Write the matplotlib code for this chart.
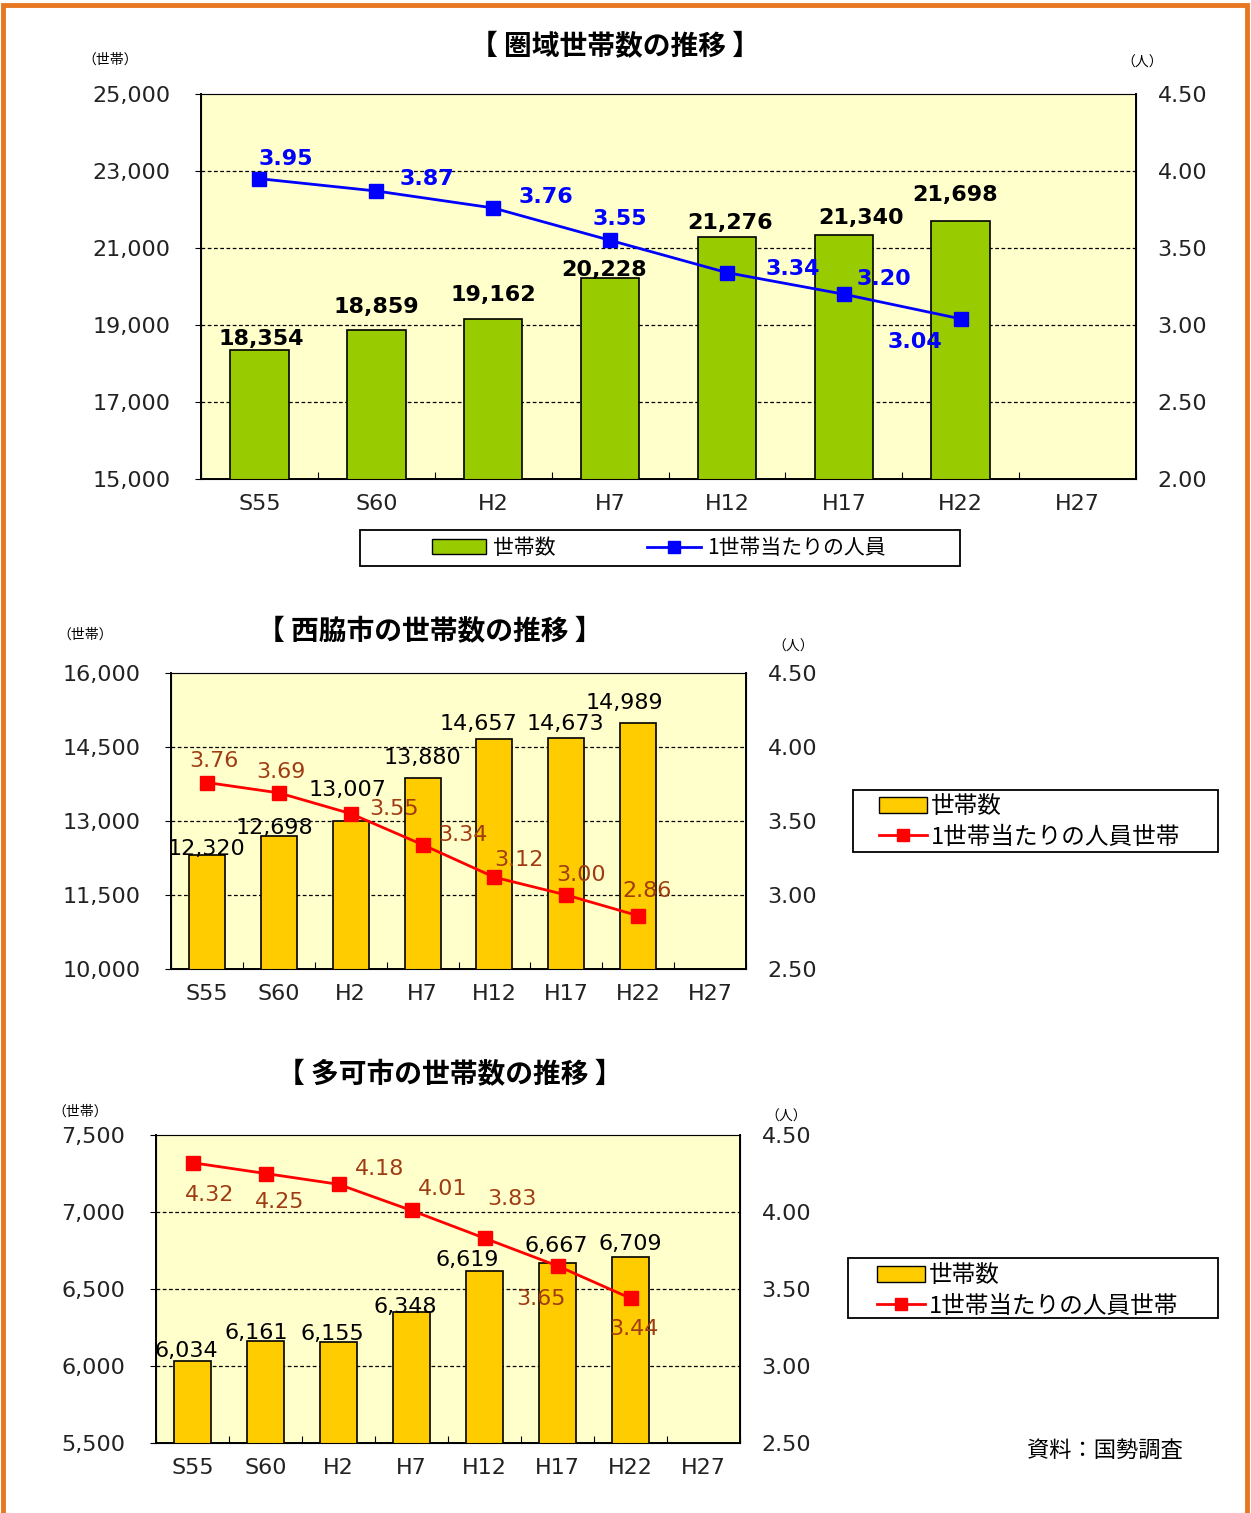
import matplotlib
matplotlib.use('Agg')
import matplotlib.pyplot as plt
from matplotlib.patches import Rectangle, Patch
from matplotlib.lines import Line2D
import numpy as np

plt.rcParams['font.family'] = ['Noto Sans CJK JP', 'DejaVu Sans']

# ---- data ----
years = ['S55', 'S60', 'H2', 'H7', 'H12', 'H17', 'H22', 'H27']

# 圏域
area_households = [18354, 18859, 19162, 20228, 21276, 21340, 21698]
area_persons = [3.95, 3.87, 3.76, 3.55, 3.34, 3.20, 3.04]

# 西脇市
nishiwaki_households = [12320, 12698, 13007, 13880, 14657, 14673, 14989]
nishiwaki_persons = [3.76, 3.69, 3.55, 3.34, 3.12, 3.00, 2.86]

# 多可市
taka_households = [6034, 6161, 6155, 6348, 6619, 6667, 6709]
taka_persons = [4.32, 4.25, 4.18, 4.01, 3.83, 3.65, 3.44]

W, H = 1251, 1513
fig = plt.figure(figsize=(W / 100, H / 100), dpi=100)


def box(l, t, r, b):
    # pixel box -> figure fraction rect
    return [l / W, 1 - b / H, (r - l) / W, (b - t) / H]


def frame(l, t, r, b):
    fig.add_artist(Rectangle((l / W, 1 - b / H), (r - l) / W, (b - t) / H,
                             transform=fig.transFigure, fill=False,
                             edgecolor='black', lw=1.3))


def draw_chart(rect, hh, pp, ylim, yticks, y2lim, y2ticks, barcol, linecol,
               labcol, bold_lab, bar_off, line_off, msize):
    ax = fig.add_axes(rect)
    ax.set_facecolor('#FFFFCC')
    x = np.arange(len(years))
    ax.bar(x[:len(hh)], hh, width=0.5, color=barcol, edgecolor='black',
           linewidth=1.2, zorder=3)
    ax.set_xlim(-0.5, len(years) - 0.5)
    ax.set_ylim(*ylim)
    ax.set_yticks(yticks)
    ax.set_yticklabels(['{:,}'.format(v) for v in yticks], fontsize=16,
                       color='#222222', family='DejaVu Sans')
    for v in yticks[1:-1]:
        ax.axhline(v, color='black', lw=0.9, ls=(0, (3, 2)), zorder=1)
    # category boundary ticks + centred labels
    ax.set_xticks(np.arange(len(years) + 1) - 0.5)
    ax.set_xticklabels([])
    ax.tick_params(axis='x', which='major', direction='in', length=5)
    ax.set_xticks(x, minor=True)
    ax.set_xticklabels(years, minor=True, fontsize=16, color='#222222',
                       family='DejaVu Sans')
    ax.tick_params(axis='x', which='minor', length=0, pad=11)
    ax.tick_params(axis='y', length=4, pad=18)
    ax.spines['top'].set_color('#888888')
    for s in ['left', 'bottom', 'right']:
        ax.spines[s].set_linewidth(1.4)

    ax2 = ax.twinx()
    ax2.set_ylim(*y2lim)
    ax2.set_yticks(y2ticks)
    ax2.set_yticklabels(['{:.2f}'.format(v) for v in y2ticks], fontsize=16,
                        color='#222222', family='DejaVu Sans')
    ax2.tick_params(axis='y', length=0, pad=15.5)
    ax2.plot(x[:len(pp)], pp, color=linecol, lw=2, marker='s', ms=msize,
             zorder=5)

    for i, v in enumerate(hh):
        ax.annotate('{:,}'.format(v), (x[i], v), xytext=bar_off[i],
                    textcoords='offset pixels', ha='center', va='bottom',
                    fontsize=16, family='DejaVu Sans',
                    fontweight='bold' if bold_lab else 'normal', zorder=6)
    for i, v in enumerate(pp):
        ax2.annotate('{:.2f}'.format(v), (x[i], v), xytext=line_off[i],
                     textcoords='offset pixels', ha='center', va='center',
                     fontsize=16, color=labcol, family='DejaVu Sans',
                     fontweight='bold' if bold_lab else 'normal', zorder=6)
    return ax, ax2


# ---- chart 1 ----
ax1, ax1b = draw_chart(
    box(201, 94, 1136, 479), area_households, area_persons,
    (15000, 25000), [15000, 17000, 19000, 21000, 23000, 25000],
    (2.0, 4.5), [2.0, 2.5, 3.0, 3.5, 4.0, 4.5],
    '#99CC00', '#0000FF', '#0000FF', True,
    [(2, 1), (0, 13), (0, 14), (-6, -2), (3, 4), (17, 7), (-6, 16)],
    [(26, 20), (51, 12), (53, 11), (10, 21), (66, 4), (40, 15), (-46, -23)], 10)
fig.text(615 / W, 1 - 47 / H, '【 圏域世帯数の推移 】', ha='center', va='center',
         fontsize=20, fontweight='bold')
fig.text(110 / W, 1 - 60 / H, '（世帯）', ha='center', va='center', fontsize=10)
fig.text(1142 / W, 1 - 63 / H, '（人）', ha='center', va='center', fontsize=10)
h1 = [Patch(facecolor='#99CC00', edgecolor='black'),
      Line2D([], [], color='#0000FF', lw=2, marker='s', ms=8)]
fig.legend(h1, ['世帯数', '1世帯当たりの人員'], ncol=2, loc='center',
           bbox_to_anchor=(659 / W, 1 - 548 / H), fontsize=15, frameon=False,
           handlelength=2.6, columnspacing=4.4, handletextpad=0.3,
           borderpad=0, borderaxespad=0)
frame(360, 530, 960, 566)

# ---- chart 2 ----
ax2, ax2b = draw_chart(
    box(171, 673, 746, 969), nishiwaki_households, nishiwaki_persons,
    (10000, 16000), [10000, 11500, 13000, 14500, 16000],
    (2.5, 4.5), [2.5, 3.0, 3.5, 4.0, 4.5],
    '#FFCC00', '#FF0000', '#A03C14', False,
    [(0, -4), (-4, -2), (-3, 21), (0, 10), (-16, 5), (-1, 4), (-14, 10)],
    [(7, 22), (2, 21), (43, 5), (40, 10), (25, 17), (15, 20), (9, 25)], 10.5)
fig.text(430 / W, 1 - 632 / H, '【 西脇市の世帯数の推移 】', ha='center',
         va='center', fontsize=20, fontweight='bold')
fig.text(85 / W, 1 - 635 / H, '（世帯）', ha='center', va='center', fontsize=10)
fig.text(793 / W, 1 - 647 / H, '（人）', ha='center', va='center', fontsize=10)

# ---- chart 3 ----
ax3, ax3b = draw_chart(
    box(156, 1135, 740, 1443), taka_households, taka_persons,
    (5500, 7500), [5500, 6000, 6500, 7000, 7500],
    (2.5, 4.5), [2.5, 3.0, 3.5, 4.0, 4.5],
    '#FFCC00', '#FF0000', '#A03C14', False,
    [(-6, 0), (-9, -2), (-6, -2), (-6, -5), (-17, 1), (-1, 7), (0, 3)],
    [(17, -32), (14, -28), (41, 15), (31, 21), (27, 39), (-16, -33), (3, -31)], 10.5)
fig.text(450 / W, 1 - 1075 / H, '【 多可市の世帯数の推移 】', ha='center',
         va='center', fontsize=20, fontweight='bold')
fig.text(80 / W, 1 - 1112 / H, '（世帯）', ha='center', va='center', fontsize=10)
fig.text(786 / W, 1 - 1117 / H, '（人）', ha='center', va='center', fontsize=10)

h2 = [Patch(facecolor='#FFCC00', edgecolor='black'),
      Line2D([], [], color='#FF0000', lw=2, marker='s', ms=9)]
for cx, cy, bx in ((1030, 822, (853, 790, 1218, 852)),
                   (1028, 1291, (848, 1258, 1218, 1318))):
    fig.legend(h2, ['世帯数', '1世帯当たりの人員世帯'], loc='center',
               bbox_to_anchor=(cx / W, 1 - cy / H), fontsize=17, frameon=False,
               handlelength=2.0, borderpad=0, labelspacing=0.3,
               handletextpad=0.2, borderaxespad=0)
    frame(*bx)

fig.text(1105 / W, 1 - 1450 / H, '資料：国勢調査', ha='center', va='center',
         fontsize=16)

# orange frame
fig.add_artist(Rectangle((3 / W, -0.01), (W - 7) / W, 1.01 - 5 / H,
                         transform=fig.transFigure, fill=False,
                         edgecolor='#E87722', lw=3.5))

fig.savefig('out.png', dpi=100)
